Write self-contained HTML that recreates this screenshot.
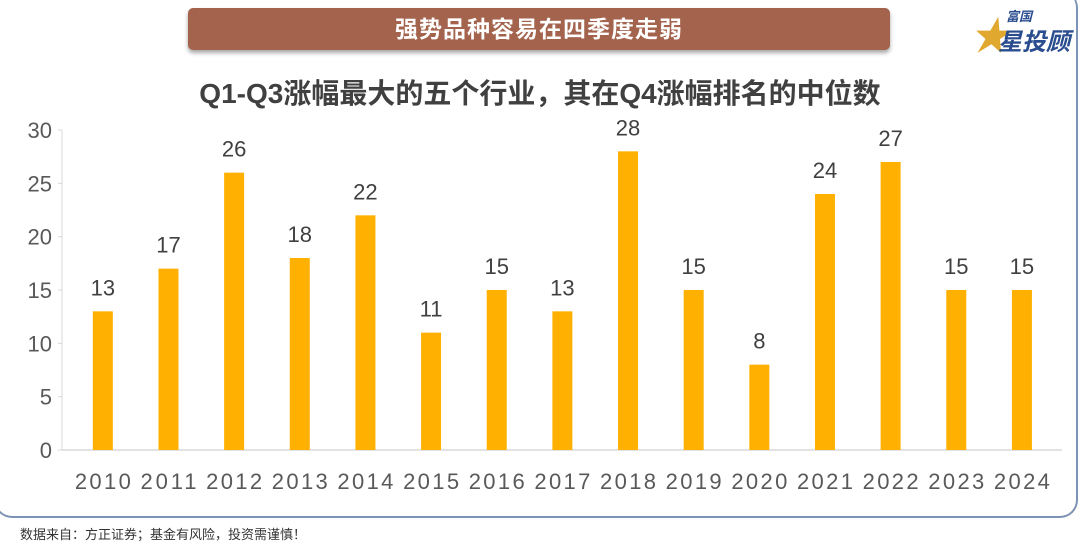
<!DOCTYPE html>
<html><head><meta charset="utf-8"><style>
body{margin:0;width:1080px;height:547px;background:#fff;overflow:hidden;font-family:"Liberation Sans","Noto Sans CJK SC",sans-serif;position:relative}
#card{position:absolute;left:-6px;top:-10px;width:1084px;height:528px;border:2px solid #7d93b3;border-radius:18px;box-sizing:border-box;border-top:none}
#banner{position:absolute;left:188px;top:8px;width:702px;height:42px;background:#a3634d;border-radius:5px;box-shadow:0 3px 4px rgba(0,0,0,.35);color:#fff;font-weight:bold;font-size:23px;text-align:center;line-height:42px;letter-spacing:1px}
#title{position:absolute;left:0;width:1080px;top:72px;text-align:center;font-size:28px;font-weight:bold;color:#404040}
#logo{position:absolute;left:970px;top:4px;color:#2a4d8f;font-weight:bold;font-style:italic}
#foot{position:absolute;left:20px;top:524px;font-size:13px;color:#333}
svg{position:absolute;left:0;top:0}
</style></head><body>
<div id="card"></div>
<div id="banner">强势品种容易在四季度走弱</div>
<div id="logo"><span style="color:#e0a82e;font-size:40px;position:absolute;left:0;top:0">★</span><span style="position:absolute;left:36px;top:2px;font-size:13px;white-space:nowrap">富国</span><span style="position:absolute;left:28px;top:18px;font-size:24px;white-space:nowrap">星投顾</span></div>
<div id="title">Q1-Q3涨幅最大的五个行业，其在Q4涨幅排名的中位数</div>
<svg id="chart" width="1080" height="547"></svg>
<div id="foot">数据来自：方正证券；基金有风险，投资需谨慎！</div>
<script>
const categories=["2010","2011","2012","2013","2014","2015","2016","2017","2018","2019","2020","2021","2022","2023","2024"];
const values=[13,17,26,18,22,11,15,13,28,15,8,24,27,15,15];
const yTicks=[0,5,10,15,20,25,30];
const svg=document.getElementById('chart');const NS='http://www.w3.org/2000/svg';
const x0=70,step=65.65,y0=450,yMax=30,ph=320;
const y=v=>y0-v/yMax*ph;const xc=i=>x0+step*(i+0.5);
function mk(t,a,txt){const e=document.createElementNS(NS,t);for(const k in a)e.setAttribute(k,a[k]);if(txt!==undefined)e.textContent=txt;svg.appendChild(e);return e;}
let ax=mk('line',{x1:62,x2:1062,y1:y0,y2:y0,stroke:'#d9d9d9','stroke-width':1.5});

let ay=mk('line',{x1:62,x2:62,y1:y(30),y2:y0,stroke:'#d9d9d9','stroke-width':1});

yTicks.forEach(t=>{const tk=mk('line',{x1:58,x2:62,y1:y(t),y2:y(t),stroke:'#d9d9d9'});

const l=mk('text',{x:52,y:y(t)+8,'text-anchor':'end','font-size':22,fill:'#595959'},t);
});
categories.forEach((c,i)=>{const v=values[i];
const b=mk('rect',{x:xc(i)-10,y:y(v),width:20,height:y0-y(v),fill:'#ffb000'});

const vl=mk('text',{x:xc(i),y:y(v)-16,'text-anchor':'middle','font-size':22,fill:'#404040'},v);

const xl=mk('text',{x:xc(i),y:489,'text-anchor':'middle','font-size':22,fill:'#595959','textLength':56},c);
});
</script>
</body></html>
